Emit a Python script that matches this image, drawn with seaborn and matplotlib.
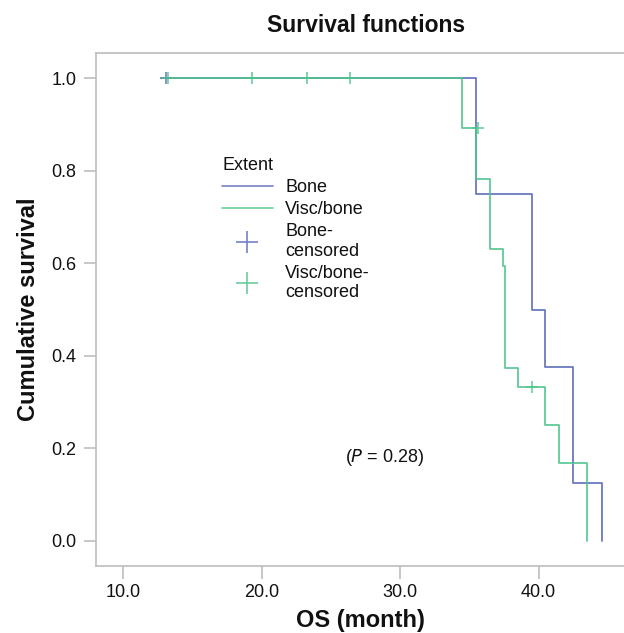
import numpy as np
import pandas as pd
import matplotlib
matplotlib.use("Agg")
import matplotlib.pyplot as plt
from matplotlib.lines import Line2D
from matplotlib.ticker import FormatStrFormatter
import seaborn as sns

# ---- data ----
bone_time = [12.8, 35.5, 39.5, 40.5, 42.5, 44.6]
bone_surv = [1.0, 0.75, 0.5, 0.375, 0.125, 0.0]
visc_time = [12.8, 34.45, 35.5, 36.5, 37.4, 37.55, 38.5, 40.5, 41.5, 43.5]
visc_surv = [1.0, 0.893, 0.781, 0.631, 0.595, 0.373, 0.333, 0.251, 0.168, 0.0]
bone_cens_time = [13.1]
bone_cens_surv = [1.0]
visc_cens_time = [13.25, 19.3, 23.3, 26.4, 35.6, 39.5]
visc_cens_surv = [1.0, 1.0, 1.0, 1.0, 0.893, 0.333]
groups = ["Bone", "Visc/bone"]
x_ticks = [10.0, 20.0, 30.0, 40.0]
y_ticks = [0.0, 0.2, 0.4, 0.6, 0.8, 1.0]
p_pos = (28.9, 0.18)

colors = {"Bone": "#5a6bb8", "Visc/bone": "#50c48d"}

curves = pd.concat([
    pd.DataFrame({"time": bone_time, "surv": bone_surv, "Extent": groups[0]}),
    pd.DataFrame({"time": visc_time, "surv": visc_surv, "Extent": groups[1]}),
], ignore_index=True)
cens = pd.concat([
    pd.DataFrame({"time": bone_cens_time, "surv": bone_cens_surv, "Extent": groups[0]}),
    pd.DataFrame({"time": visc_cens_time, "surv": visc_cens_surv, "Extent": groups[1]}),
], ignore_index=True)

sns.set_style("ticks")
plt.rcParams["font.family"] = ["Liberation Sans", "DejaVu Sans"]

fig = plt.figure(figsize=(6.24, 6.33), dpi=100)
ax = fig.add_axes([96/624, 1-566/633, 1-96/624, (566-53)/633])

sns.lineplot(data=curves, x="time", y="surv", hue="Extent", palette=colors,
             estimator=None, sort=False, drawstyle="steps-post",
             linewidth=1.3, alpha=0.9, legend=False, ax=ax)
for g in groups:
    sub = cens[cens["Extent"] == g]
    ax.plot(sub["time"], sub["surv"], linestyle="none", marker="+",
            markersize=8, markeredgewidth=1.2, color=colors[g], alpha=0.85)

ax.set_xlim(8.05, 46.17)
ax.set_ylim(-0.054, 1.054)
ax.set_xticks(x_ticks)
ax.set_yticks(y_ticks)
ax.xaxis.set_major_formatter(FormatStrFormatter("%.1f"))
ax.yaxis.set_major_formatter(FormatStrFormatter("%.1f"))

spine_c = "#bdbdbd"
for s in ["left", "top", "bottom"]:
    ax.spines[s].set_visible(True)
    ax.spines[s].set_color(spine_c)
    ax.spines[s].set_linewidth(1.2)
ax.spines["right"].set_visible(False)
ax.tick_params(axis="both", which="major", direction="out", length=9, width=1.2,
               color=spine_c, labelsize=13, labelcolor="#111111", pad=5,
               bottom=True, left=True, top=False, right=False)
ax.tick_params(axis="x", pad=4)

ax.set_xlabel("OS (month)", fontsize=17, fontweight="bold", labelpad=6, color="#111111")
ax.set_ylabel("Cumulative survival", fontsize=17, fontweight="bold", labelpad=8, color="#111111")
fig.text(366/624, 1-25/633, "Survival functions", fontsize=16.5, fontweight="bold",
         ha="center", va="center", color="#111111")

ax.text(p_pos[0], p_pos[1], r"($\mathit{P}$ = 0.28)", fontsize=13, ha="center",
        va="center", color="#111111")

handles = [
    Line2D([], [], color=colors["Bone"], lw=1.2, alpha=0.85),
    Line2D([], [], color=colors["Visc/bone"], lw=1.2, alpha=0.85),
    Line2D([], [], color=colors["Bone"], lw=0, marker="+", markersize=16, markeredgewidth=1.2, alpha=0.85),
    Line2D([], [], color=colors["Visc/bone"], lw=0, marker="+", markersize=16, markeredgewidth=1.2, alpha=0.85),
]
labels = ["Bone", "Visc/bone", "Bone-\ncensored", "Visc/bone-\ncensored"]
leg = ax.legend(handles, labels, title="Extent", loc="upper left",
                bbox_to_anchor=(222/624, 1-157/633), bbox_transform=fig.transFigure,
                frameon=False, fontsize=13, title_fontsize=13, borderpad=0,
                handlelength=2.8, handletextpad=0.7, labelspacing=0.28,
                borderaxespad=0)
leg._legend_box.align = "left"
for t in leg.get_texts():
    t.set_linespacing(1.2)
    t.set_color("#111111")
leg.get_title().set_color("#111111")

fig.savefig("out.png", dpi=100)
